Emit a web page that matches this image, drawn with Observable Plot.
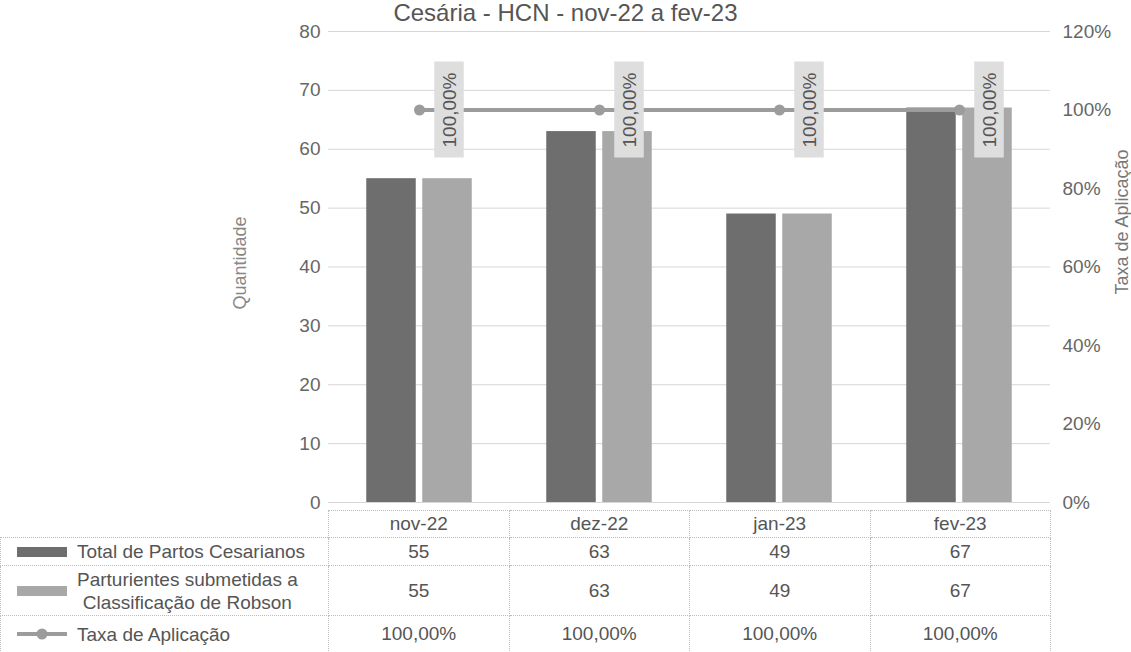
<!DOCTYPE html>
<html>
<head>
<meta charset="utf-8">
<script src="https://cdn.jsdelivr.net/npm/d3@7"></script>
<script src="https://cdn.jsdelivr.net/npm/@observablehq/plot@0.6"></script>
<style>
  body { margin: 0; background: #fff; }
  #wrap { width: 1131px; height: 652px; font-family: "Liberation Sans", Arial, sans-serif; color: #555; position: relative; overflow: hidden; }
  #title { height: 26px; line-height: 26px; font-size: 24px; text-align: center; color: #555; white-space: nowrap; }
  #chart svg { display: block; overflow: visible; }
  table { border-collapse: collapse; table-layout: fixed; font-size: 19px; color: #555; }
  td { border: 1px dotted #bdbdbd; text-align: center; padding: 0; }
  td.empty { border: none; }
  td.lab { text-align: left; }
  .labbox { display: flex; align-items: center; }
  .sw { width: 50px; height: 10px; margin-left: 16px; flex: none; }
  .labtxt { margin-left: 10px; text-align: center; line-height: 23px; }
</style>
</head>
<body>
<div id="wrap">
  <div id="title"></div>
  <div id="chart"></div>
  <div id="table"></div>
</div>
<script>
const months = ["nov-22", "dez-22", "jan-23", "fev-23"];
const totalPartos = [55, 63, 49, 67];
const parturientes = [55, 63, 49, 67];
const taxaAplicacao = [1, 1, 1, 1];
const seriesNames = ["Total de Partos Cesarianos", "Parturientes submetidas a|Classificação de Robson", "Taxa de Aplicação"];
const leftTicks = [0, 10, 20, 30, 40, 50, 60, 70, 80];
const rightTicks = [0, 0.2, 0.4, 0.6, 0.8, 1.0, 1.2];
const chartTitle = "Cesária - HCN - nov-22 a fev-23";
const leftLabel = "Quantidade";
const rightLabel = "Taxa de Aplicação";

const C_TOTAL = "#6e6e6e";
const C_PART = "#a8a8a8";
const C_LINE = "#9c9c9c";

const yMax = 80, rMax = 1.2;
const toY = r => r * yMax / rMax;
const fmtPct = v => (v * 100).toFixed(2).replace(".", ",") + "%";

const rows = months.map((m, i) => ({
  month: m, total: totalPartos[i], part: parturientes[i], taxa: taxaAplicacao[i], ty: toY(taxaAplicacao[i])
}));

const W = 1131, ML = 328, MR = 81, H = 484, MT = 5, MB = 8;
const bw = (W - ML - MR) / months.length;
const pxPerUnit = (H - MT - MB) / yMax;
const boxHalf = 48 / pxPerUnit;

document.getElementById("title").textContent = chartTitle;

const chart = Plot.plot({
  width: W, height: H, marginTop: MT, marginBottom: MB, marginLeft: ML, marginRight: MR,
  style: { fontFamily: "Liberation Sans, Arial, sans-serif", fontSize: "19px", color: "#666", background: "transparent", overflow: "visible" },
  x: { domain: months, padding: 0, axis: null },
  y: { domain: [0, yMax], axis: null },
  marks: [
    Plot.gridY(leftTicks, { stroke: "#d6d6d6", strokeOpacity: 1 }),
    Plot.axisY(leftTicks, { anchor: "left", tickSize: 0, tickPadding: 8, label: null, fill: "#666" }),
    Plot.axisY(rightTicks.map(toY), { anchor: "right", tickSize: 0, tickPadding: 12, label: null, fill: "#666",
      tickFormat: d => Math.round(d / yMax * rMax * 100) + "%" }),
    Plot.text([leftLabel], { text: d => d, frameAnchor: "left", textAnchor: "middle", dx: -88, dy: -4, rotate: -90, fill: "#888", fontSize: 18 }),
    Plot.text([rightLabel], { text: d => d, frameAnchor: "right", textAnchor: "middle", dx: 72, dy: -45, rotate: -90, fill: "#777", fontSize: 18 }),
    Plot.barY(rows, { x: "month", y: "total", fill: C_TOTAL, insetLeft: bw / 2 - 53, insetRight: bw / 2 + 3 }),
    Plot.barY(rows, { x: "month", y: "part", fill: C_PART, insetLeft: bw / 2 + 3, insetRight: bw / 2 - 53 }),
    Plot.line(rows, { x: "month", y: "ty", stroke: C_LINE, strokeWidth: 4 }),
    Plot.dot(rows, { x: "month", y: "ty", r: 5.5, fill: C_LINE, stroke: "none" }),
    Plot.rectY(rows, { x: "month", y1: d => d.ty - boxHalf, y2: d => d.ty + boxHalf, fill: "#dedede",
      insetLeft: bw / 2 + 15, insetRight: bw / 2 - 45 }),
    Plot.text(rows, { x: "month", y: "ty", text: d => fmtPct(d.taxa), rotate: -90, dx: 30, fill: "#555", fontSize: 19 })
  ]
});
document.getElementById("chart").appendChild(chart);

// data table below the chart
const colW = months.map(() => bw);
let html = `<table style="width:${ML + bw * months.length}px"><colgroup><col style="width:${ML}px">` +
  colW.map(w => `<col style="width:${w}px">`).join("") + `</colgroup>`;
html += `<tr style="height:27px"><td class="empty"></td>` + months.map(m => `<td>${m}</td>`).join("") + `</tr>`;
const sw0 = `<div class="sw" style="background:${C_TOTAL}"></div>`;
const sw1 = `<div class="sw" style="background:${C_PART}"></div>`;
const sw2 = `<svg class="sw" width="50" height="12" style="height:12px"><line x1="0" x2="50" y1="6" y2="6" stroke="${C_LINE}" stroke-width="4"/><circle cx="25" cy="6" r="5.5" fill="${C_LINE}"/></svg>`;
const lab = (sw, name) => `<div class="labbox">${sw}<div class="labtxt">${name.split("|").join("<br>")}</div></div>`;
html += `<tr style="height:28px"><td class="lab">${lab(sw0, seriesNames[0])}</td>` + totalPartos.map(v => `<td>${v}</td>`).join("") + `</tr>`;
html += `<tr style="height:50px"><td class="lab">${lab(sw1, seriesNames[1])}</td>` + parturientes.map(v => `<td>${v}</td>`).join("") + `</tr>`;
html += `<tr style="height:37px"><td class="lab">${lab(sw2, seriesNames[2])}</td>` + taxaAplicacao.map(v => `<td>${fmtPct(v)}</td>`).join("") + `</tr>`;
html += `</table>`;
document.getElementById("table").innerHTML = html;
</script>
</body>
</html>
